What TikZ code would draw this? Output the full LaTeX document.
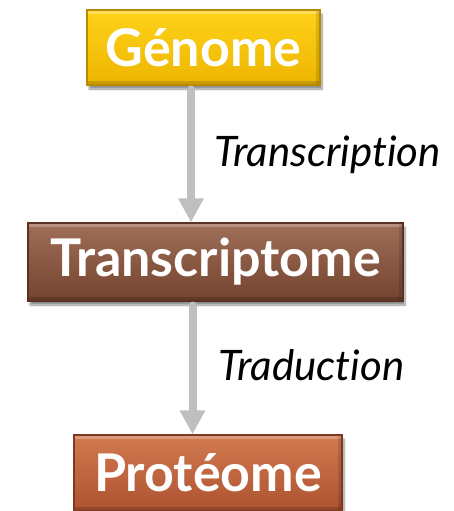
\documentclass[tikz,border=0pt]{standalone}
\usepackage{fontspec}
\setmainfont{Lato}[Ligatures=NoCommon]
\usetikzlibrary{arrows.meta,shadows.blur}
\definecolor{gtop}{HTML}{FFD21A}
\definecolor{gbot}{HTML}{EDB500}
\definecolor{gdr}{HTML}{B88A00}
\definecolor{ttop}{HTML}{A06F58}
\definecolor{tbot}{HTML}{73432F}
\definecolor{tdr}{HTML}{5A3222}
\definecolor{ptop}{HTML}{D17A50}
\definecolor{pbot}{HTML}{AE5230}
\definecolor{pdr}{HTML}{7E3A20}
\definecolor{arr}{HTML}{BFBFBF}
\tikzset{
  box/.style={draw=#1, line width=1.2pt, inner sep=0pt, text=white,
    font=\bfseries\fontsize{52}{52}\selectfont,
    path picture={
      \fill[white, opacity=0.25] (path picture bounding box.north west) rectangle ([yshift=-4pt]path picture bounding box.north east);
      \fill[black, opacity=0.15] (path picture bounding box.south west) rectangle ([yshift=4pt]path picture bounding box.south east);
      \fill[black, opacity=0.12] (path picture bounding box.north east) rectangle ([xshift=-4pt]path picture bounding box.south east);
    },
    blur shadow={shadow xshift=2pt, shadow yshift=-4pt, shadow blur steps=8, shadow opacity=45}},
  flow/.style={draw=arr, line width=8pt, line cap=round, -{Triangle[width=24pt,length=24pt]}},
  lbl/.style={font=\itshape\fontsize{42}{42}\selectfont, anchor=west, inner sep=0pt}
}
\begin{document}
\begin{tikzpicture}[x=1pt,y=-1pt]
\useasboundingbox (0,0) rectangle (454,511);
\node[box=gdr, top color=gtop, bottom color=gbot, minimum width=233pt, minimum height=75pt] (g) at (203.5,47.5) {Génome};
\node[box=tdr, top color=ttop, bottom color=tbot, minimum width=375pt, minimum height=78pt] (t) at (215.5,262) {Transcriptome};
\node[box=pdr, top color=ptop, bottom color=pbot, minimum width=268pt, minimum height=76pt] (p) at (208,473) {Protéome};
\coordinate (a1) at (191,0);
\coordinate (a2) at (192.5,0);
\draw[flow] ([yshift=-4pt]g.south -| a1) -- (t.north -| a1);
\draw[flow] ([yshift=-4pt]t.south -| a2) -- (p.north -| a2);
\node[lbl] (l1) at (214,155) {Transcription};
\node[lbl] (l2) at (218,365) {Traduction};
\end{tikzpicture}
\end{document}
